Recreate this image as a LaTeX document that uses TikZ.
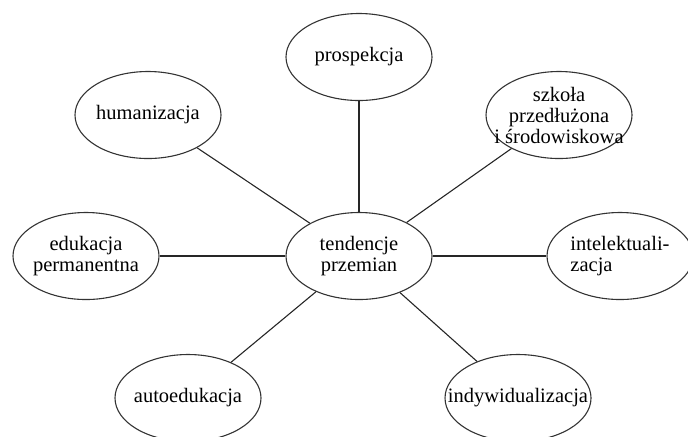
\documentclass[tikz,border=0pt]{standalone}
\usepackage{fontspec}
\setmainfont{Liberation Serif}
\usetikzlibrary{shapes.geometric}

\begin{document}
\begin{tikzpicture}[x=0.5pt, y=-0.5pt,
        bubble/.style={ellipse, draw=black!80, line width=0.55pt, minimum width=73pt, minimum height=43.5pt, inner sep=0pt},
        every label/.style={align=center, inner sep=0pt, font=\fontsize{10.25}{10.5}\selectfont},
        link/.style={draw=black!85, line width=0.55pt}]
            \clip (0,0) rectangle (688,436);

            \node[bubble, label=center:{tendencje\\przemian}] (c) at (359, 256) {};

            \node[bubble, label=center:{prospekcja}] (p) at (359, 57) {};
            \node[bubble, label=center:{humanizacja}] (h) at (148, 115) {};
            \node[bubble, label=center:{szkoła\\przedłużona\\i środowiskowa}] (s) at (559, 115) {};
            \node[bubble, label=center:{edukacja\\permanentna}] (e) at (86, 256) {};
            \node[bubble, label={[align=left]center:{intelektuali-\\zacja}}] (i) at (620, 256) {};
            \node[bubble, label=center:{autoedukacja}] (a) at (188, 398) {};
            \node[bubble, label=center:{indywidualizacja}] (w) at (518, 398) {};

            \draw[link] (c) to (p);
            \draw[link] (c) to (h);
            \draw[link] (c) to (s);
            \draw[link] (c) to (e);
            \draw[link] (c) to (i);
            \draw[link] (c) to (a);
            \draw[link] (c) to (w);
        \end{tikzpicture}
\end{document}
